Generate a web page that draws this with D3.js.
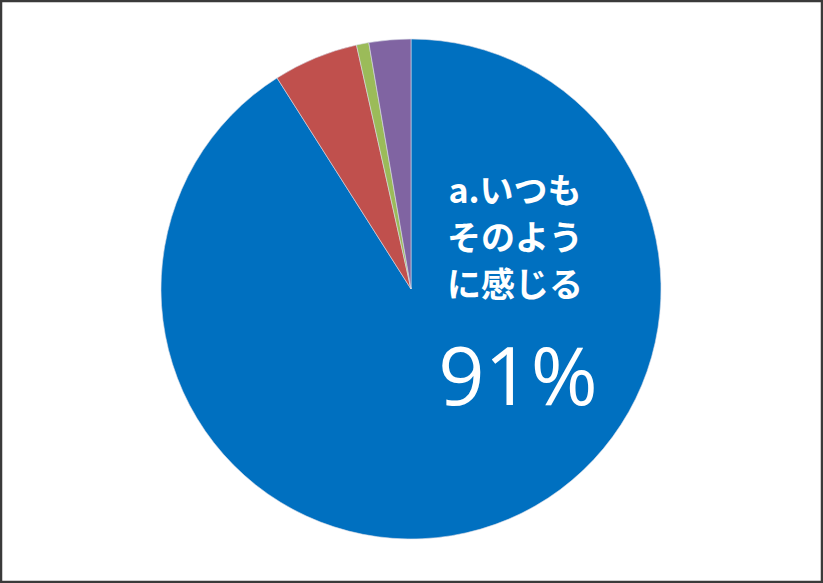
<!DOCTYPE html>
<html><head><meta charset="utf-8">
<script src="https://cdn.jsdelivr.net/npm/d3@7"></script>
<style>html,body{margin:0;padding:0;background:#fff;}svg{display:block;}</style>
</head><body>
<script>
const categories = ["a.いつもそのように感じる", "b", "c", "d"];
const values = [91.0, 5.5, 0.8, 2.7];
const colors = ["#0070C0", "#C0504D", "#9BBB59", "#8064A2"];
const labelLines = ["a.いつも", "そのよう", "に感じる"];
const pctLabel = "91%";

const W = 823, H = 583;
const svg = d3.select("body").append("svg").attr("width", W).attr("height", H);
svg.append("rect").attr("x", 1).attr("y", 1).attr("width", W - 2).attr("height", H - 2)
  .attr("fill", "#fff").attr("stroke", "#3a3a3a").attr("stroke-width", 2.5);

const cx = 411, cy = 289, r = 250;
const pie = d3.pie().sort(null).value(d => d);
const arc = d3.arc().innerRadius(0).outerRadius(r);
const g = svg.append("g").attr("transform", `translate(${cx},${cy})`);
g.selectAll("path").data(pie(values)).join("path")
  .attr("d", arc).attr("fill", (d, i) => colors[i])
  .attr("stroke", "#d8dce8").attr("stroke-width", 0.6);

const tx = 515;
svg.selectAll("text.lab").data(labelLines).join("text").attr("class", "lab")
  .attr("x", tx).attr("y", (d, i) => 203 + i * 47)
  .attr("text-anchor", "middle").attr("fill", "#fff")
  .attr("font-family", "'Noto Sans CJK JP', sans-serif").attr("font-weight", 700)
  .attr("font-size", 34).text(d => d);
svg.append("text").attr("x", 518).attr("y", 405).attr("text-anchor", "middle")
  .attr("fill", "#fff").attr("font-family", "'Open Sans', sans-serif").attr("font-weight", 400)
  .attr("font-size", 81).text(pctLabel);
</script>
</body></html>
